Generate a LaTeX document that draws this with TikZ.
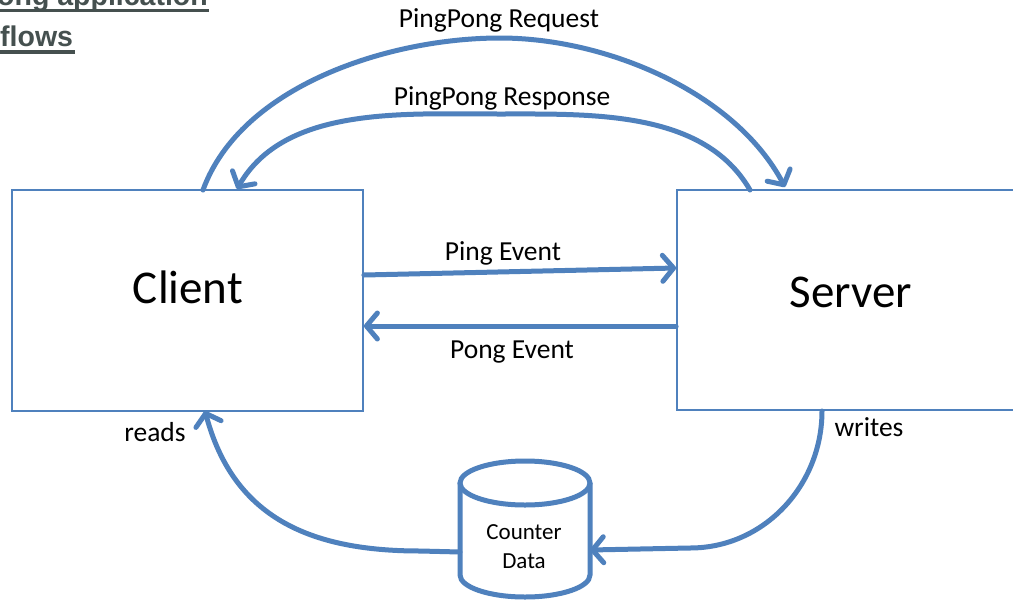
\documentclass[tikz,border=0pt]{standalone}
\usepackage{fontspec}
\setmainfont{Carlito}
\newfontfamily\titlefont{Liberation Sans}
\usetikzlibrary{arrows.meta}
\definecolor{lineblue}{RGB}{79,129,189}
\definecolor{titlegray}{RGB}{69,80,79}
\tikzset{
  box/.style={draw=lineblue, line width=1.8pt, fill=white, inner sep=0pt},
  flow/.style={draw=lineblue, line width=5pt, line cap=round,
    -{Straight Barb[length=11pt, width=26pt, round]}},
  lbl/.style={font=\fontsize{27.5}{30}\selectfont, inner sep=0pt},
  big/.style={font=\fontsize{47}{50}\selectfont, inner sep=0pt},
  dbtext/.style={font=\fontsize{23}{29}\selectfont, align=center, inner sep=0pt},
  ttl/.style={font=\titlefont\bfseries\fontsize{28.5}{30}\selectfont, text=titlegray, inner sep=0pt, anchor=base west},
}
\begin{document}
\begin{tikzpicture}[x=1pt, y=-1pt]
\useasboundingbox (0,0) rectangle (1013,611);
\clip (0,0) rectangle (1013,611);
\fill[white] (0,0) rectangle (1013,611);

% title (cut off)
\node[ttl] (t1) at (-3,5) {ong application};
\node[ttl] (t2) at (0,46) {flows};
\fill[titlegray] (0,8.5) rectangle (209,11.5);
\fill[titlegray] (0,50) rectangle (75,53.5);

% boxes
\node[box, minimum width=351pt, minimum height=221pt] (client) at (187.5,300.5) {};
\node[big] (clienttext) at (188,287) {Client};
\node[box, minimum width=366pt, minimum height=220pt] (server) at (860,300) {};
\node[big] (servertext) at (851,292) {Server};

% database
\coordinate (dbw) at (460,552);
\coordinate (dbe) at (590,550);
\draw[lineblue, line width=5pt, fill=white]
  (460,483) -- (460,575) arc[start angle=180, end angle=0, x radius=65, y radius=22] -- (590,483);
\draw[lineblue, line width=5pt, fill=white] (525,483) ellipse[x radius=65, y radius=22];
\node[dbtext] (db) at (524,547) {Counter\\Data};

% horizontal events
\draw[flow] (client.east |- 0,275) -- (server.west |- 0,268);
\draw[flow] (server.west |- 0,326) -- (client.east |- 0,326);
\node[lbl] (ping) at (503,253) {Ping Event};
\node[lbl] (pong) at (512,352) {Pong Event};

% request / response curves
\coordinate (reqs) at (203,190);
\coordinate (reqe) at (785,187);
\coordinate (ress) at (750,190);
\coordinate (rese) at (237,189);
\draw[flow] (reqs) to[out=70, in=180, looseness=0.85] (500,38) to[out=0, in=118, looseness=0.85] (reqe);
\draw[flow] (ress) to[out=120, in=0, looseness=0.9] (500,114) to[out=180, in=60, looseness=0.9] (rese);
\node[lbl] (req) at (499,20) {PingPong Request};
\node[lbl] (res) at (502,98) {PingPong Response};

% reads / writes
\coordinate (readend) at (205,411);
\coordinate (writestart) at (822,411);
\draw[flow] (dbw) -- (420,551) to[out=180, in=-75, looseness=1.1] (readend);
\draw[flow] (writestart) to[out=-90, in=0, looseness=1.0] (690,548) -- (dbe);
\node[lbl] (reads) at (155,432) {reads};
\node[lbl] (writes) at (869,427) {writes};
\end{tikzpicture}
\end{document}
